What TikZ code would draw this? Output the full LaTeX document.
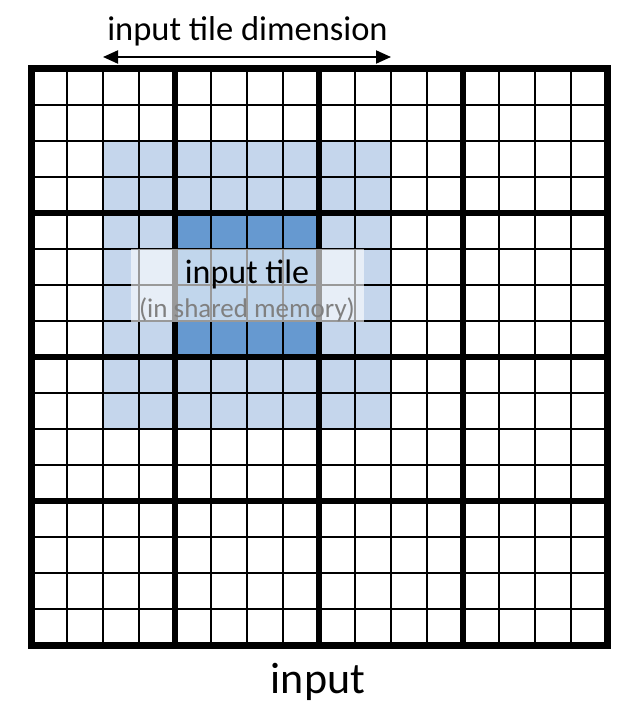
\documentclass[tikz,border=0pt]{standalone}
\usepackage{fontspec}
\setmainfont{Carlito}
\usetikzlibrary{arrows.meta}

\definecolor{haloblue}{RGB}{197,214,236}
\definecolor{coreblue}{RGB}{102,153,208}
\definecolor{notegray}{RGB}{128,128,128}

\begin{document}
\begin{tikzpicture}[x=1pt,y=-1pt,
        cellline/.style={line width=1.8pt},
        blockline/.style={line width=5.5pt},
        frameline/.style={line width=7pt, line join=miter},
        label/.style={anchor=base, inner sep=0pt}]
    \useasboundingbox (0,0) rectangle (628,706);

    % input tile (halo) and its core
    \fill[haloblue] (103,141) rectangle (391,429);
    \fill[coreblue] (175,213) rectangle (319,357);

    % cells
    \foreach \i in {1,...,15} {
        \draw[cellline] ({31+36*\i},69) -- ({31+36*\i},645);
        \draw[cellline] (31,{69+36*\i}) -- (607,{69+36*\i});
    }
    % blocks
    \foreach \i in {4,8,12} {
        \draw[blockline] ({31+36*\i},69) -- ({31+36*\i},645);
        \draw[blockline] (31,{69+36*\i}) -- (607,{69+36*\i});
    }
    \draw[frameline] (31,69) rectangle (607,645);

    % tile dimension
    \coordinate (dimL) at (103,57);
    \coordinate (dimR) at (391,57);
    \draw[line width=2pt, {Triangle[length=15pt,width=13pt]}-{Triangle[length=15pt,width=13pt]}] (dimL) -- (dimR);
    \node[label, font=\fontsize{34.5}{38}\selectfont] (dimtext) at (247.5,41) {input tile dimension};

    % shared memory note
    \node[fill=white, fill opacity=0.6, minimum width=233pt, minimum height=73pt, inner sep=0pt] (notebox) at (247.5,285.5) {};
    \node[label, font=\fontsize{34}{38}\selectfont] (tiletext) at (247,283) {input tile};
    \node[label, text=notegray, font=\fontsize{27}{30}\selectfont] (memtext) at (247,317) {(in shared memory)};

    \node[label, font=\fontsize{44}{48}\selectfont] (inputtext) at (318,693) {input};
\end{tikzpicture}
\end{document}
